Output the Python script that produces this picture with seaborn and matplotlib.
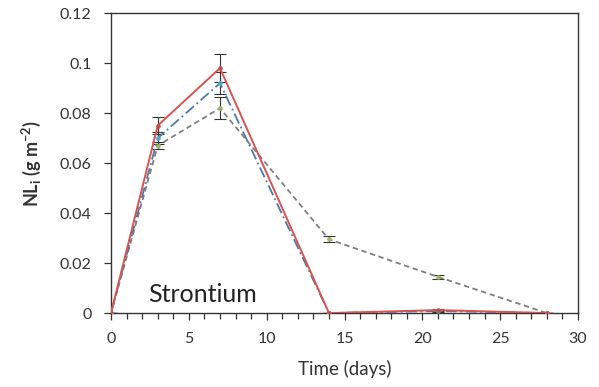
import numpy as np
import pandas as pd
import matplotlib
matplotlib.use("Agg")
import matplotlib.pyplot as plt
import seaborn as sns
from matplotlib.ticker import MultipleLocator, FuncFormatter

days = [0, 3, 7, 14, 21, 28]
red_vals = [0.0, 0.075, 0.098, 0.0, 0.0012, 0.0]
red_err = [0.0, 0.0035, 0.0055, 0.0, 0.0005, 0.0]
blue_vals = [0.0, 0.070, 0.092, 0.0, 0.0008, 0.0]
blue_err = [0.0, 0.0025, 0.0045, 0.0, 0.0004, 0.0]
green_vals = [0.0, 0.067, 0.082, 0.0295, 0.0145, 0.0]
green_err = [0.0, 0.0015, 0.0045, 0.0012, 0.0008, 0.0]

series_names = ["red", "blue", "green"]
df = pd.concat([
    pd.DataFrame({"day": days, "val": v, "err": e, "series": n})
    for n, v, e in zip(series_names, [red_vals, blue_vals, green_vals],
                       [red_err, blue_err, green_err])
])

sns.set_style("white")
plt.rcParams["font.family"] = ["Lato", "DejaVu Sans"]

fig = plt.figure(figsize=(5.99, 3.87), dpi=100)
ax = fig.add_axes([0.1853, 0.191, 0.7797, 0.775])

styles = {
    "red": dict(color="#d9534f", ls="-", lw=1.4, mc="#c0504d"),
    "blue": dict(color="#4a7aa6", ls=(0, (6, 2, 1, 2)), lw=1.3, mc="#4bacc6"),
    "green": dict(color="#7f7f7f", ls=(0, (3, 2)), lw=1.3, mc="#9bbb59"),
}
for n in ["green", "blue", "red"]:
    sub = df[df.series == n]
    st = styles[n]
    ax.errorbar(sub.day, sub.val, yerr=sub.err, fmt="none", ecolor="#333333",
                elinewidth=0.8, capsize=4, capthick=0.8, zorder=2)
    sns.lineplot(data=sub, x="day", y="val", ax=ax, color=st["color"],
                 linestyle=st["ls"], linewidth=st["lw"], marker="o",
                 markersize=2.5, markerfacecolor=st["mc"],
                 markeredgecolor=st["mc"], legend=False, zorder=3)

ax.set_xlim(0, 30)
ax.set_ylim(0, 0.12)
ax.xaxis.set_major_locator(MultipleLocator(5))
ax.xaxis.set_minor_locator(MultipleLocator(1))
ax.yaxis.set_major_locator(MultipleLocator(0.02))
ax.yaxis.set_major_formatter(FuncFormatter(lambda v, p: f"{v:.2f}".rstrip("0").rstrip(".") if v != 0 else "0"))
ax.tick_params(axis="both", which="both", direction="out", color="#333333")
ax.tick_params(axis="both", which="major", length=5, width=0.9, labelsize=11.5,
               labelcolor="#333333")
ax.tick_params(axis="x", which="major", pad=8.5, bottom=True)
ax.tick_params(axis="y", which="major", pad=9, left=True)
ax.tick_params(axis="x", which="minor", length=4, width=0.9, bottom=True)
for s in ax.spines.values():
    s.set_color("#333333")
    s.set_linewidth(1.0)
ax.set_xlabel("Time (days)", fontsize=13.5, color="#333333", labelpad=10)
ax.set_ylabel("NL$_\\mathregular{i}$ (g m$^\\mathregular{-2}$)", fontsize=13,
              fontweight="bold", color="#333333", labelpad=12)
ax.text(2.4, 0.0045, "Strontium", fontsize=18, color="#222222")

fig.savefig("out.png", dpi=100)
